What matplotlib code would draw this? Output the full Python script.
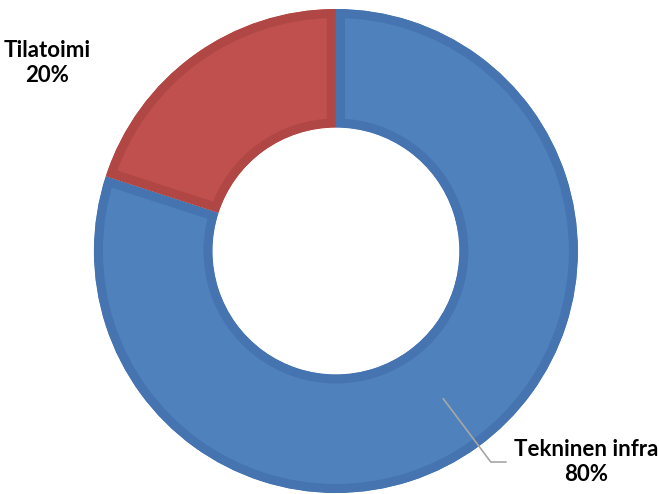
import numpy as np
import matplotlib.pyplot as plt

labels = ["Tekninen infra", "Tilatoimi"]
values = [80, 20]
fills = ["#4F81BD", "#C0504D"]
edges = ["#4674B0", "#B04744"]

plt.rcParams['font.family'] = ['Lato', 'DejaVu Sans']

fig = plt.figure(figsize=(6.59, 4.94), dpi=100)
ax = fig.add_axes([0, 0, 1, 1])

wedges, _ = ax.pie(values, startangle=90, counterclock=False, radius=1.0,
                   colors=fills, wedgeprops=dict(width=0.49))

# axis limits so the ring sits where it does in the reference
ax.set_xlim(-1.388, 1.335)
ax.set_ylim(-1.004, 1.037)
ax.set_aspect('equal')
ax.axis('off')

for w, ec in zip(wedges, edges):
    w.set_edgecolor(ec)
    w.set_linewidth(13)
    w.set_clip_on(True)   # pie turns clipping off
    w.set_clip_path(w)    # keep the stroke inside the wedge

pct = [f"{v / sum(values) * 100:.0f}%" for v in values]

# Tekninen infra label with leader line from mid of ring
w0 = wedges[0]
mid = np.deg2rad((w0.theta1 + w0.theta2) / 2)
r_mid = 1.0 - 0.49 / 2
x0, y0 = r_mid * np.cos(mid), r_mid * np.sin(mid)
ax.plot([x0, 0.640, 0.702], [y0, -0.872, -0.872], color="#A6A6A6", lw=1.2)
ax.text(1.033, -0.872, f"{labels[0]}\n{pct[0]}", ha='center', va='center',
        fontsize=16, fontweight='bold', linespacing=1.25)

ax.text(-1.194, 0.777, f"{labels[1]}\n{pct[1]}", ha='center', va='center',
        fontsize=16, fontweight='bold', linespacing=1.25)

fig.savefig("out.png", dpi=100)
